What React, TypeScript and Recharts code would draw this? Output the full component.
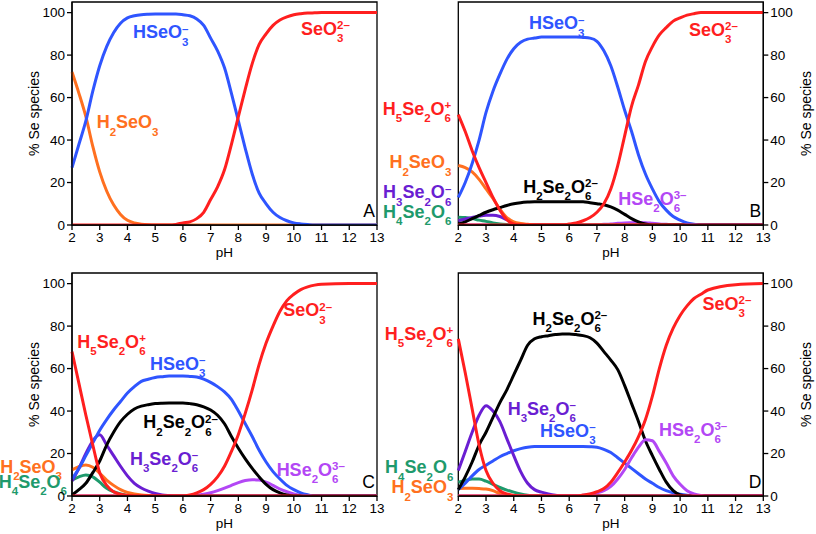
import React from 'react';
import { LineChart, Line, XAxis, YAxis, ReferenceArea, ReferenceDot } from 'recharts';

// pH grid shared by all four panels
const pH = [2, 2.25, 2.5, 2.75, 3, 3.25, 3.5, 3.75, 4, 4.25, 4.5, 4.75, 5, 5.25, 5.5, 5.75, 6, 6.25, 6.5, 6.75,
  7, 7.25, 7.5, 7.75, 8, 8.25, 8.5, 8.75, 9, 9.25, 9.5, 9.75, 10, 10.25, 10.5, 10.75, 11, 12, 13];
const pHTicks = [2, 3, 4, 5, 6, 7, 8, 9, 10, 11, 12, 13];
const pctTicks = [0, 20, 40, 60, 80, 100];

// panel A
const aH2SeO3 = [72, 62, 51, 37, 25, 16, 9.5, 5, 2.2, 1, 0.4, 0.1, 0, 0, 0, 0, 0, 0, 0, 0, 0, 0, 0, 0, 0, 0, 0, 0, 0, 0, 0, 0, 0, 0, 0, 0, 0, 0, 0];
const aHSeO3 = [27, 38, 49, 63, 75, 84, 90.5, 95, 97.5, 98.5, 99, 99.2, 99.3, 99.3, 99.3, 99.3, 99, 98.5, 97, 94, 88, 82, 74, 62, 49, 36, 24, 15, 10, 6, 3.5, 2, 1, 0.5, 0.2, 0, 0, 0, 0];
const aSeO3 = [0, 0, 0, 0, 0, 0, 0, 0, 0, 0, 0, 0, 0, 0, 0, 0.3, 1, 1.5, 3, 6, 12, 18, 26, 38, 51, 64, 76, 85, 90, 94, 96.5, 98, 99, 99.5, 99.8, 99.9, 100, 100, 100];

// panel B
const bH5Se2O6 = [52, 44, 35, 27, 20, 13, 7, 2.5, 0.5, 0, 0, 0, 0, 0, 0, 0, 0, 0, 0, 0, 0, 0, 0, 0, 0, 0, 0, 0, 0, 0, 0, 0, 0, 0, 0, 0, 0, 0, 0];
const bH2SeO3 = [28, 27, 25, 21.5, 17, 12.5, 7.5, 3.5, 1.5, 0.7, 0.3, 0, 0, 0, 0, 0, 0, 0, 0, 0, 0, 0, 0, 0, 0, 0, 0, 0, 0, 0, 0, 0, 0, 0, 0, 0, 0, 0, 0];
const bH4Se2O6 = [3.7, 3.5, 3, 2.3, 1.7, 1, 0.5, 0.2, 0, 0, 0, 0, 0, 0, 0, 0, 0, 0, 0, 0, 0, 0, 0, 0, 0, 0, 0, 0, 0, 0, 0, 0, 0, 0, 0, 0, 0, 0, 0];
const bH3Se2O6 = [2, 2.8, 3.5, 4.2, 4.6, 4.6, 4, 2.5, 1, 0.3, 0, 0, 0, 0, 0, 0, 0, 0, 0, 0, 0, 0, 0, 0, 0, 0, 0, 0, 0, 0, 0, 0, 0, 0, 0, 0, 0, 0, 0];
const bH2Se2O6 = [0.5, 1.5, 3, 4.5, 6, 7.2, 8.2, 9.2, 10, 10.5, 10.8, 11, 11, 11, 11, 11, 11, 11, 11, 10.5, 10, 9.5, 8.5, 7, 5, 3, 1.5, 0.5, 0, 0, 0, 0, 0, 0, 0, 0, 0, 0, 0];
const bHSe2O6 = [0, 0, 0, 0, 0, 0, 0, 0, 0, 0, 0, 0, 0, 0, 0, 0, 0, 0, 0, 0, 0.1, 0.3, 0.5, 0.8, 1, 1.1, 1.2, 1.1, 0.8, 0.5, 0.3, 0.1, 0, 0, 0, 0, 0, 0, 0];
const bHSeO3 = [13, 20, 29, 40, 53, 63, 71, 78, 83, 86, 87.5, 88, 88.5, 88.5, 88.5, 88.5, 88.5, 88.5, 88.3, 88, 86.5, 82, 75, 65, 54, 44, 33, 24, 17, 11, 7, 4, 2.3, 1, 0.4, 0, 0, 0, 0];
const bSeO3 = [0, 0, 0, 0, 0, 0, 0, 0, 0, 0, 0, 0, 0, 0, 0, 0, 0.5, 1, 2, 3.5, 6, 10, 17, 28, 42, 56, 66, 77, 84, 89.5, 93, 96, 97.5, 98.8, 99.5, 100, 100, 100, 100];

// panel C
const cH5Se2O6 = [68, 53, 38, 24, 11, 5, 2, 0.8, 0.3, 0, 0, 0, 0, 0, 0, 0, 0, 0, 0, 0, 0, 0, 0, 0, 0, 0, 0, 0, 0, 0, 0, 0, 0, 0, 0, 0, 0, 0, 0];
const cH2SeO3 = [12.3, 13.8, 14.6, 13.5, 10.7, 7.5, 5, 3, 1.7, 1, 0.5, 0.2, 0, 0, 0, 0, 0, 0, 0, 0, 0, 0, 0, 0, 0, 0, 0, 0, 0, 0, 0, 0, 0, 0, 0, 0, 0, 0, 0];
const cH4Se2O6 = [7.5, 9, 9.9, 9, 6.5, 3.6, 2, 1, 0.3, 0, 0, 0, 0, 0, 0, 0, 0, 0, 0, 0, 0, 0, 0, 0, 0, 0, 0, 0, 0, 0, 0, 0, 0, 0, 0, 0, 0, 0, 0];
const cH3Se2O6 = [7, 13, 20, 26, 28.8, 24, 19, 14, 9.5, 6, 3.8, 2.3, 1.2, 0.5, 0.2, 0, 0, 0, 0, 0, 0, 0, 0, 0, 0, 0, 0, 0, 0, 0, 0, 0, 0, 0, 0, 0, 0, 0, 0];
const cHSeO3 = [8, 13, 19, 25, 31, 36, 40.5, 44.5, 48.5, 51.5, 54, 55, 55.8, 56.2, 56.5, 56.5, 56.5, 56.3, 56, 55, 53.5, 51.5, 49, 45.5, 40, 34, 28, 21.5, 16, 11.5, 8, 5, 3, 1.5, 0.6, 0, 0, 0, 0];
const cH2Se2O6 = [0.5, 3, 6, 11, 16.5, 24, 30, 35, 38.5, 41, 42.3, 43, 43.5, 43.7, 43.8, 43.8, 43.8, 43.5, 43, 42, 40.5, 38, 34, 28, 22.5, 17.5, 13, 9, 5.5, 3, 1.5, 0.5, 0, 0, 0, 0, 0, 0, 0];
const cHSe2O6 = [0, 0, 0, 0, 0, 0, 0, 0, 0, 0, 0, 0, 0, 0, 0, 0, 0, 0, 0.3, 0.8, 1.5, 2.5, 3.7, 5, 6.3, 7.3, 7.7, 7.5, 6.5, 5, 3.3, 2, 1, 0.4, 0.1, 0, 0, 0, 0];
const cSeO3 = [0, 0, 0, 0, 0, 0, 0, 0, 0, 0, 0, 0, 0, 0, 0, 0, 0, 0.5, 1.5, 3, 5.5, 9, 14, 21, 29, 39, 50, 62, 72, 80, 87, 92, 95, 97.2, 98.5, 99.3, 99.7, 100, 100];

// panel D
const dH5Se2O6 = [74, 58, 41, 24, 12, 6, 2.5, 1, 0.3, 0, 0, 0, 0, 0, 0, 0, 0, 0, 0, 0, 0, 0, 0, 0, 0, 0, 0, 0, 0, 0, 0, 0, 0, 0, 0, 0, 0, 0, 0];
const dH2SeO3 = [3.5, 3.6, 3.6, 3.5, 3.3, 2.5, 1.2, 0.5, 0.2, 0, 0, 0, 0, 0, 0, 0, 0, 0, 0, 0, 0, 0, 0, 0, 0, 0, 0, 0, 0, 0, 0, 0, 0, 0, 0, 0, 0, 0, 0];
const dH4Se2O6 = [6.5, 7.3, 8, 8, 7, 5.5, 4, 2.8, 1.8, 1, 0.4, 0, 0, 0, 0, 0, 0, 0, 0, 0, 0, 0, 0, 0, 0, 0, 0, 0, 0, 0, 0, 0, 0, 0, 0, 0, 0, 0, 0];
const dH3Se2O6 = [12, 21, 30, 38, 42.5, 40, 35, 27, 19, 11.5, 6, 3, 1.8, 1, 0.4, 0, 0, 0, 0, 0, 0, 0, 0, 0, 0, 0, 0, 0, 0, 0, 0, 0, 0, 0, 0, 0, 0, 0, 0];
const dHSeO3 = [3, 6, 9.5, 12.5, 14.5, 16.5, 18.5, 20, 21.3, 22.3, 23, 23.3, 23.3, 23.3, 23.3, 23.3, 23.3, 23.3, 23.3, 23.2, 23, 22, 20.5, 18, 15.5, 13, 10.5, 8, 6, 4, 2.5, 1.5, 0.8, 0.3, 0, 0, 0, 0, 0];
const dH2Se2O6 = [3, 9, 16, 24, 30, 37, 44, 50, 57, 64, 71, 74, 75, 75.5, 76, 76.3, 76.3, 76, 75.5, 74.5, 72, 68, 64, 59.5, 52, 43.5, 35, 26, 19, 12.5, 6.5, 2.5, 0.5, 0, 0, 0, 0, 0, 0];
const dHSe2O6 = [0, 0, 0, 0, 0, 0, 0, 0, 0, 0, 0, 0, 0, 0, 0, 0, 0, 0, 0.3, 0.8, 1.5, 2.5, 4.5, 8, 12.5, 18, 23, 26.5, 26, 21, 15.5, 9.5, 5.5, 2.5, 1, 0.3, 0, 0, 0];
const dSeO3 = [0, 0, 0, 0, 0, 0, 0, 0, 0, 0, 0, 0, 0, 0, 0, 0, 0, 0, 0.5, 1, 2, 3.5, 6.5, 11, 16, 21.5, 28, 36, 47, 60, 71, 79, 85, 89.5, 93, 95, 97, 99.5, 100];

const RED = '#ff1f1f';
const BLUE = '#2f55ff';
const ORANGE = '#ff7020';
const BLACK = '#000000';
const PURPLE = '#6a1ed2';
const MAGENTA = '#b347f5';
const GREEN = '#1e9a6c';

const FONT = '"Liberation Sans", Arial, sans-serif';
const MAIN = 18;
const SMALL = 11.5;

type Series = { key: string; values: number[]; color: string };
type Note = { text: string; x: number; y: number; color: string; end?: boolean; dx?: number };

const seriesA: Series[] = [
  { key: 'H2SeO3', values: aH2SeO3, color: ORANGE },
  { key: 'HSeO3', values: aHSeO3, color: BLUE },
  { key: 'SeO3', values: aSeO3, color: RED },
];
const seriesB: Series[] = [
  { key: 'HSe2O6', values: bHSe2O6, color: MAGENTA },
  { key: 'H4Se2O6', values: bH4Se2O6, color: GREEN },
  { key: 'H3Se2O6', values: bH3Se2O6, color: PURPLE },
  { key: 'H2SeO3', values: bH2SeO3, color: ORANGE },
  { key: 'H2Se2O6', values: bH2Se2O6, color: BLACK },
  { key: 'HSeO3', values: bHSeO3, color: BLUE },
  { key: 'H5Se2O6', values: bH5Se2O6, color: RED },
  { key: 'SeO3', values: bSeO3, color: RED },
];
const seriesC: Series[] = [
  { key: 'HSe2O6', values: cHSe2O6, color: MAGENTA },
  { key: 'H4Se2O6', values: cH4Se2O6, color: GREEN },
  { key: 'H2SeO3', values: cH2SeO3, color: ORANGE },
  { key: 'H3Se2O6', values: cH3Se2O6, color: PURPLE },
  { key: 'H2Se2O6', values: cH2Se2O6, color: BLACK },
  { key: 'HSeO3', values: cHSeO3, color: BLUE },
  { key: 'H5Se2O6', values: cH5Se2O6, color: RED },
  { key: 'SeO3', values: cSeO3, color: RED },
];
const seriesD: Series[] = [
  { key: 'H2SeO3', values: dH2SeO3, color: ORANGE },
  { key: 'H4Se2O6', values: dH4Se2O6, color: GREEN },
  { key: 'HSeO3', values: dHSeO3, color: BLUE },
  { key: 'H3Se2O6', values: dH3Se2O6, color: PURPLE },
  { key: 'H2Se2O6', values: dH2Se2O6, color: BLACK },
  { key: 'HSe2O6', values: dHSe2O6, color: MAGENTA },
  { key: 'H5Se2O6', values: dH5Se2O6, color: RED },
  { key: 'SeO3', values: dSeO3, color: RED },
];

// species labels: "_{..}" subscript, "^{..}" superscript
const notesA: Note[] = [
  { text: 'HSeO^{–}_{3}', x: 4.2, y: 88, color: BLUE },
  { text: 'SeO^{2–}_{3}', x: 10.26, y: 89.5, color: RED },
  { text: 'H_{2}SeO_{3}', x: 2.89, y: 45.6, color: ORANGE },
];
const notesB: Note[] = [
  { text: 'HSeO^{–}_{3}', x: 4.55, y: 92.2, color: BLUE },
  { text: 'SeO^{2–}_{3}', x: 10.32, y: 89, color: RED },
  { text: 'H_{5}Se_{2}O^{+}_{6}', x: 2, y: 51.9, color: RED, end: true, dx: -7 },
  { text: 'H_{2}SeO_{3}', x: 2, y: 26.8, color: ORANGE, end: true, dx: -7 },
  { text: 'H_{3}Se_{2}O^{–}_{6}', x: 2, y: 12.7, color: PURPLE, end: true, dx: -7 },
  { text: 'H_{4}Se_{2}O_{6}', x: 2, y: 3.3, color: GREEN, end: true, dx: -7 },
  { text: 'H_{2}Se_{2}O^{2–}_{6}', x: 4.34, y: 15.3, color: BLACK },
  { text: 'HSe_{2}O^{3–}_{6}', x: 7.77, y: 9.5, color: MAGENTA },
];
const notesC: Note[] = [
  { text: 'SeO^{2–}_{3}', x: 9.62, y: 84.6, color: RED },
  { text: 'H_{5}Se_{2}O^{+}_{6}', x: 2.19, y: 69.7, color: RED },
  { text: 'HSeO^{–}_{3}', x: 4.81, y: 59.4, color: BLUE },
  { text: 'H_{2}Se_{2}O^{2–}_{6}', x: 4.57, y: 32, color: BLACK },
  { text: 'H_{3}Se_{2}O^{–}_{6}', x: 4.09, y: 14.6, color: PURPLE },
  { text: 'HSe_{2}O^{3–}_{6}', x: 9.38, y: 9.5, color: MAGENTA },
  { text: 'H_{2}SeO_{3}', x: 2, y: 11, color: ORANGE, end: true, dx: -10 },
  { text: 'H_{4}Se_{2}O_{6}', x: 2, y: 3.8, color: GREEN, end: true, dx: -5 },
];
const notesD: Note[] = [
  { text: 'SeO^{2–}_{3}', x: 10.81, y: 87.7, color: RED },
  { text: 'H_{2}Se_{2}O^{2–}_{6}', x: 4.68, y: 80.7, color: BLACK },
  { text: 'H_{5}Se_{2}O^{+}_{6}', x: 2, y: 73.6, color: RED, end: true, dx: -5 },
  { text: 'H_{3}Se_{2}O^{–}_{6}', x: 3.78, y: 38.2, color: PURPLE },
  { text: 'HSeO^{–}_{3}', x: 4.95, y: 28, color: BLUE },
  { text: 'HSe_{2}O^{3–}_{6}', x: 9.24, y: 28.3, color: MAGENTA },
  { text: 'H_{4}Se_{2}O_{6}', x: 2, y: 10.7, color: GREEN, end: true, dx: -5 },
  { text: 'H_{2}SeO_{3}', x: 2, y: 1.3, color: ORANGE, end: true, dx: -5 },
];

const GLYPH: Record<string, number> = { '–': 0.556, '+': 0.584, '-': 0.333 };
const textW = (s: string) => s.split('').reduce((w, ch) => w + (GLYPH[ch] ?? 0.556), 0);

function parse(t: string) {
  const out: { kind: 'n' | 'sub' | 'sup'; s: string }[] = [];
  const re = /(_|\^)\{([^}]*)\}|([^_^]+)/g;
  let m: RegExpExecArray | null;
  while ((m = re.exec(t))) {
    if (m[3]) out.push({ kind: 'n', s: m[3] });
    else out.push({ kind: m[1] === '_' ? 'sub' : 'sup', s: m[2] });
  }
  return out;
}

function ChemText({ cx, cy, note }: { cx: number; cy: number; note: Note }) {
  const parts = parse(note.text);
  let shift = 0;
  return (
    <text x={cx + (note.dx ?? 0)} y={cy} fill={note.color} fontWeight="bold" fontFamily={FONT}
      fontSize={MAIN} textAnchor={note.end ? 'end' : 'start'}>
      {parts.map((p, i) => {
        const target = p.kind === 'sup' ? -5.5 : p.kind === 'sub' ? 7.5 : 0;
        const d = target - shift;
        shift = target;
        const prev = parts[i - 1];
        const back = p.kind === 'sub' && prev && prev.kind === 'sup' ? -textW(prev.s) * SMALL : undefined;
        return (
          <tspan key={i} dy={d} dx={back} fontSize={p.kind === 'n' ? MAIN : SMALL}>{p.s}</tspan>
        );
      })}
    </text>
  );
}

const tickStyle = { fill: '#000', fontSize: 13.5, fontFamily: FONT };

function Panel({ series, notes, letter, side, left, top, width, height, plotTop }: {
  series: Series[]; notes: Note[]; letter: string; side: 'left' | 'right';
  left: number; top: number; width: number; height: number; plotTop: number;
}) {
  const rows = pH.map((p, i) => {
    const r: Record<string, number> = { pH: p };
    series.forEach(s => { r[s.key] = s.values[i]; });
    return r;
  });
  const margin = side === 'left'
    ? { top: plotTop, right: 23, bottom: 0, left: 0 }
    : { top: plotTop, right: 0, bottom: 0, left: 78.3 };
  const axisW = side === 'left' ? 72 : width - 78.3 - 305;
  return (
    <div style={{ position: 'absolute', left, top }}>
      <LineChart width={width} height={height} data={rows} margin={margin}>
        <XAxis dataKey="pH" type="number" domain={[2, 13]} ticks={pHTicks} interval={0} height={37}
          tickSize={5} tickMargin={2} tick={tickStyle} stroke="#000" strokeWidth={1.3}
          label={{
            content: (p: any) => (
              <text x={p.viewBox.x + p.viewBox.width / 2} y={p.viewBox.y + 32} textAnchor="middle"
                fontSize={13.5} fontFamily={FONT} fill="#000">pH</text>
            ),
          }} />
        <YAxis type="number" domain={[0, 105]} ticks={pctTicks} interval={0} allowDataOverflow
          orientation={side} width={axisW} tickSize={5} tickMargin={2} tick={tickStyle}
          stroke="#000" strokeWidth={1.3}
          label={{
            content: (p: any) => {
              const vb = p.viewBox;
              const x = side === 'left' ? vb.x + 39 : vb.x + vb.width - 5;
              const y = vb.y + vb.height / 2;
              return (
                <text x={x} y={y} transform={`rotate(-90, ${x}, ${y})`} textAnchor="middle"
                  fontSize={14} fontFamily={FONT} fill="#000">% Se species</text>
              );
            },
          }} />
        <ReferenceArea x1={2} x2={13} y1={0} y2={105} fill="none" stroke="#000" strokeWidth={1.3}
          ifOverflow="visible" />
        {series.map(s => (
          <Line key={s.key} dataKey={s.key} stroke={s.color} strokeWidth={3} dot={false}
            type="monotone" isAnimationActive={false} />
        ))}
        {notes.map((n, i) => (
          <ReferenceDot key={i} x={n.x} y={n.y} r={0} ifOverflow="visible"
            shape={(p: any) => <ChemText cx={p.cx} cy={p.cy} note={n} />} />
        ))}
        <ReferenceDot x={13} y={0} r={0} ifOverflow="visible"
          shape={(p: any) => (
            <text x={p.cx - 2} y={p.cy - 8.5} textAnchor="end" fontSize={17.5} fontFamily={FONT}
              fill="#000">{letter}</text>
          )} />
      </LineChart>
    </div>
  );
}

export default function App() {
  return (
    <div style={{ position: 'absolute', left: 0, top: 0, width: 816, height: 534, background: '#fff' }}>
      <Panel series={seriesA} notes={notesA} letter="A" side="left" left={0} top={0} width={400} height={262} plotTop={2} />
      <Panel series={seriesB} notes={notesB} letter="B" side="right" left={380} top={0} width={436} height={262} plotTop={2} />
      <Panel series={seriesC} notes={notesC} letter="C" side="left" left={0} top={260} width={400} height={273} plotTop={13} />
      <Panel series={seriesD} notes={notesD} letter="D" side="right" left={380} top={260} width={436} height={273} plotTop={13} />
    </div>
  );
}
